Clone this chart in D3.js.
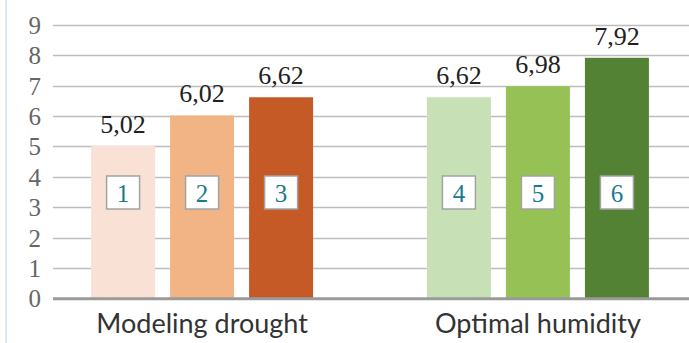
<!DOCTYPE html>
<html>
<head>
<meta charset="utf-8">
<script src="https://cdn.jsdelivr.net/npm/d3@7"></script>
<style>
  html, body { margin: 0; padding: 0; background: #fff; }
  svg { display: block; }
</style>
</head>
<body>
<svg id="chart" width="689" height="343"></svg>
<script>
// Data
const categories = ["Modeling drought", "Optimal humidity"];
const seriesIds = ["1", "2", "3"];
const droughtValues = [5.02, 6.02, 6.62];
const humidityValues = [6.62, 6.98, 7.92];
const droughtColors = ["#f9e2d5", "#f2b385", "#c55a27"];
const humidityColors = ["#c7e0b5", "#95c155", "#548235"];
const boxLabels = [["1", "2", "3"], ["4", "5", "6"]];
const yTicks = [0, 1, 2, 3, 4, 5, 6, 7, 8, 9];

const groups = [
  { name: categories[0], values: droughtValues, colors: droughtColors, boxes: boxLabels[0] },
  { name: categories[1], values: humidityValues, colors: humidityColors, boxes: boxLabels[1] }
];

const W = 689, H = 343;
const svg = d3.select("#chart");

// Scales
const y = d3.scaleLinear().domain([0, 9]).range([298.3, 25]);
const x0 = d3.scaleBand().domain(categories).range([34, 706])
  .paddingInner(0.339).paddingOuter(0.17);
const x1 = d3.scaleBand().domain(seriesIds).range([0, x0.bandwidth()])
  .paddingInner(0.19).paddingOuter(0);

const gridLeft = 53;

// Left accent line
svg.append("line")
  .attr("x1", 6).attr("x2", 6).attr("y1", 0).attr("y2", H)
  .attr("stroke", "#dae8f2").attr("stroke-width", 2);

// Gridlines
svg.append("g")
  .selectAll("line")
  .data(yTicks.filter(d => d > 0))
  .join("line")
  .attr("x1", gridLeft).attr("x2", W)
  .attr("y1", d => Math.round(y(d)) + 0.5).attr("y2", d => Math.round(y(d)) + 0.5)
  .attr("stroke", "#bdbdbd").attr("stroke-width", 1.5);

// Y axis tick labels
const yAxis = d3.axisLeft(y).tickValues(yTicks).tickSize(0).tickPadding(0);
const gy = svg.append("g").attr("transform", "translate(41,0)").call(yAxis);
gy.select(".domain").remove();
gy.selectAll("text")
  .attr("font-family", "'Liberation Serif', serif")
  .attr("font-size", 25)
  .attr("fill", "#666")
  .attr("dy", "0.34em");

// Bars
const gGroups = svg.append("g")
  .selectAll("g")
  .data(groups)
  .join("g")
  .attr("transform", d => `translate(${x0(d.name)},0)`);

gGroups.selectAll("rect.bar")
  .data(d => d.values.map((v, i) => ({ v, i, color: d.colors[i], box: d.boxes[i] })))
  .join("rect")
  .attr("class", "bar")
  .attr("x", d => x1(seriesIds[d.i]))
  .attr("width", x1.bandwidth())
  .attr("y", d => y(d.v))
  .attr("height", d => y(0) - y(d.v))
  .attr("fill", d => d.color);

// Value labels
gGroups.selectAll("text.val")
  .data(d => d.values.map((v, i) => ({ v, i })))
  .join("text")
  .attr("class", "val")
  .attr("x", d => x1(seriesIds[d.i]) + x1.bandwidth() / 2)
  .attr("y", d => y(d.v) - 13)
  .attr("text-anchor", "middle")
  .attr("font-family", "'Liberation Serif', serif")
  .attr("font-size", 26)
  .attr("fill", "#222")
  .text(d => d3.format(".2f")(d.v).replace(".", ","));

// Numbered boxes
const boxSize = 33;
const boxCy = 192.5;
const boxes = gGroups.selectAll("g.box")
  .data(d => d.boxes.map((b, i) => ({ b, i })))
  .join("g")
  .attr("class", "box")
  .attr("transform", d => `translate(${x1(seriesIds[d.i]) + x1.bandwidth() / 2},${boxCy})`);

boxes.append("rect")
  .attr("x", -boxSize / 2).attr("y", -boxSize / 2)
  .attr("width", boxSize).attr("height", boxSize)
  .attr("fill", "#fff").attr("stroke", "#a3a3a3").attr("stroke-width", 1.5);

boxes.append("text")
  .attr("text-anchor", "middle")
  .attr("y", 9)
  .attr("font-family", "'Liberation Serif', serif")
  .attr("font-size", 25)
  .attr("fill", "#1a7a8c")
  .text(d => d.b);

// Baseline axis
svg.append("line")
  .attr("x1", gridLeft).attr("x2", W)
  .attr("y1", y(0) + 0.5).attr("y2", y(0) + 0.5)
  .attr("stroke", "#9a9a9a").attr("stroke-width", 3);

// Category labels
const xAxis = d3.axisBottom(x0).tickSize(0).tickPadding(0);
const gx = svg.append("g").attr("transform", "translate(0,333)").call(xAxis);
gx.select(".domain").remove();
gx.selectAll("text")
  .attr("dy", 0)
  .attr("font-family", "Lato, sans-serif")
  .attr("font-size", 27)
  .attr("fill", "#333");
</script>
</body>
</html>
